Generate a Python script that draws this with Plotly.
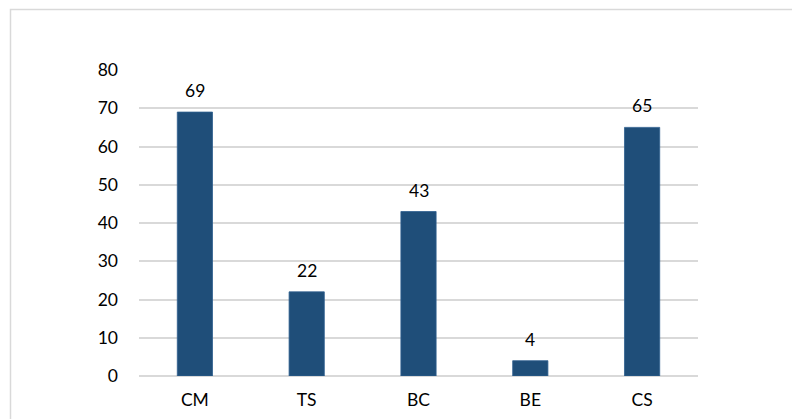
import plotly.graph_objects as go

categories = ["CM", "TS", "BC", "BE", "CS"]
values = [69, 22, 43, 4, 65]
y_ticks = [0, 10, 20, 30, 40, 50, 60, 70, 80]

BAR_COLOR = "#1F4E79"
GRID = "#D9D9D9"
FONT = "Lato, Calibri, 'Open Sans', sans-serif"
FS = 17.5

fig = go.Figure(go.Bar(
    x=categories, y=values,
    marker=dict(color=BAR_COLOR, line=dict(color="#2F5F8F", width=0.8)),
    width=0.315,
    hoverinfo="skip",
))

for c, v in zip(categories, values):
    fig.add_annotation(x=c, y=v, text=str(v), showarrow=False,
                       yanchor="bottom", yshift=9,
                       font=dict(family=FONT, size=FS, color="#000000"))

W, H = 792, 419
L, R, T, B = 139, 94, 70, 43
pw = W - L - R
ph = H - T - B

# outer chart border (extends past right/bottom edges of image)
fig.add_shape(type="rect", xref="paper", yref="paper",
              x0=(10.5 - L) / pw, x1=(W + 20 - L) / pw,
              y0=-(B + 20) / ph, y1=(H - 9.5 - B) / ph,
              line=dict(color=GRID, width=1.5), fillcolor="rgba(0,0,0,0)", layer="below")

fig.update_layout(
    width=W, height=H,
    margin=dict(l=L, r=R, t=T, b=B, pad=0, autoexpand=False),
    paper_bgcolor="white", plot_bgcolor="white",
    showlegend=False,
    font=dict(family=FONT, size=FS, color="#000000"),
    xaxis=dict(showgrid=False, showline=False, ticks="", zeroline=False, automargin=False,
               ticklabelstandoff=11, tickfont=dict(size=FS)),
    yaxis=dict(range=[0, 80], tickvals=y_ticks, showgrid=True, gridcolor=GRID, automargin=False,
               gridwidth=1.5, zeroline=True, zerolinecolor=GRID, zerolinewidth=1.5,
               showline=False, ticks="", ticklabelstandoff=20, tickfont=dict(size=FS)),
)

fig.write_html("out.html")
